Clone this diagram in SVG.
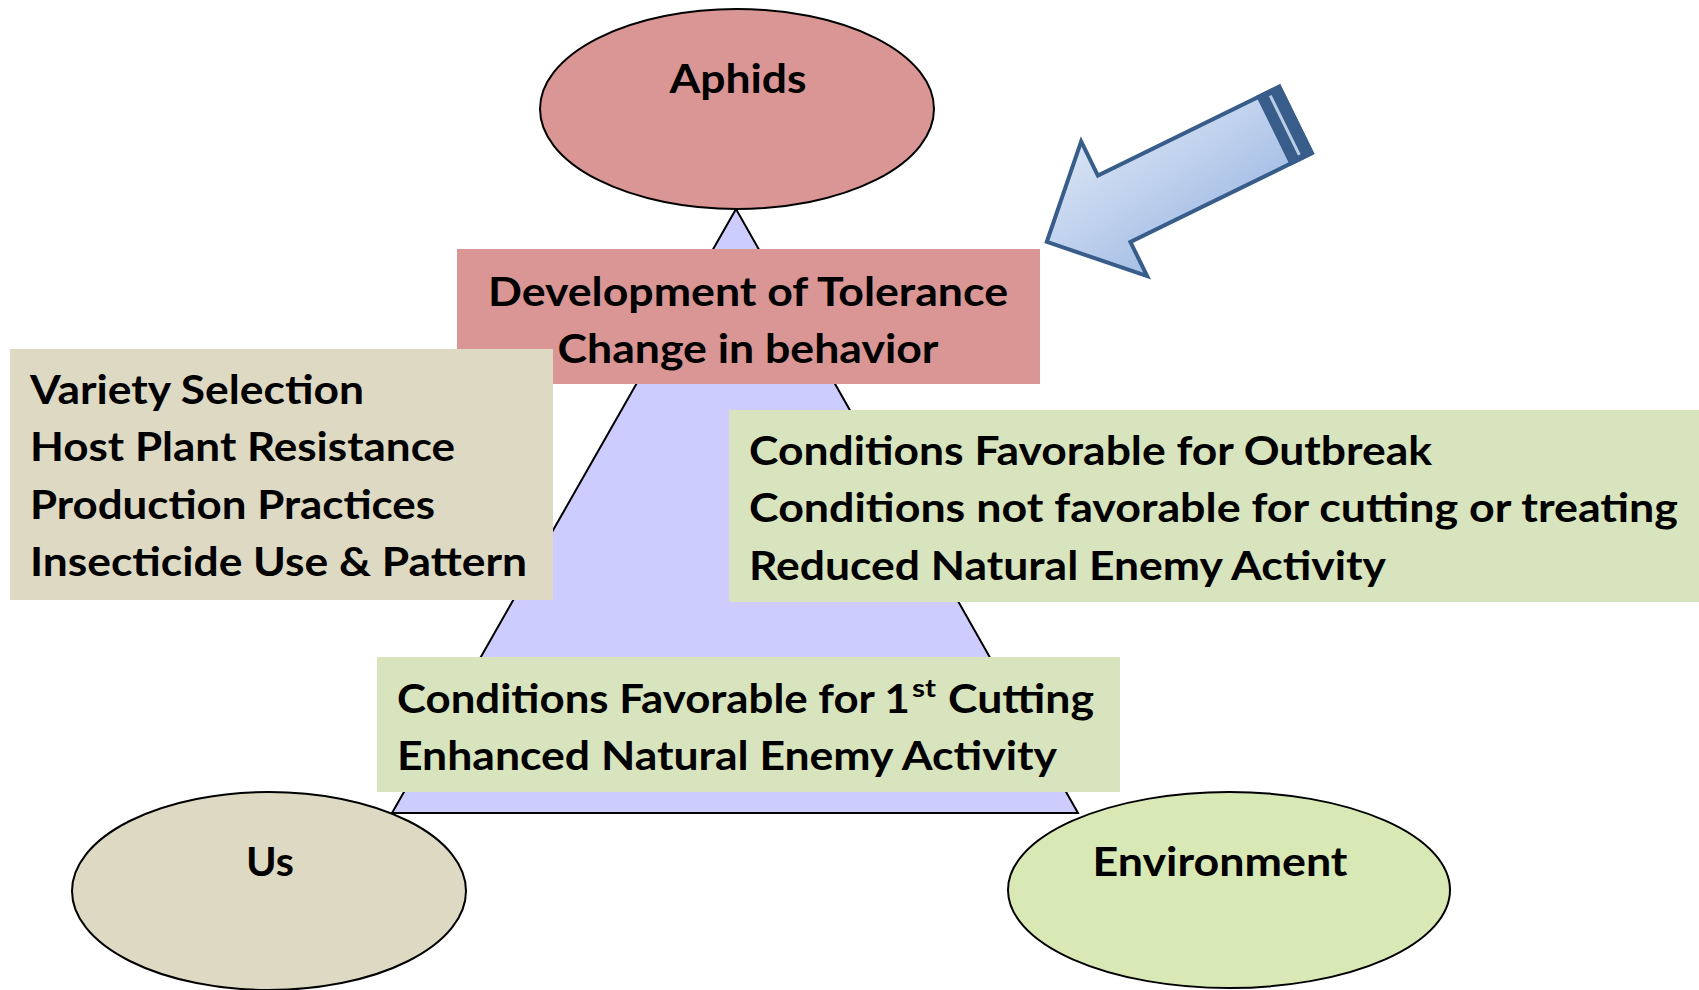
<svg xmlns="http://www.w3.org/2000/svg" width="1699" height="990" viewBox="0 0 1699 990">
<defs>
<linearGradient id="arrowGrad" x1="0" y1="0" x2="0.3" y2="1">
<stop offset="0" stop-color="#DCE6F5"/>
<stop offset="1" stop-color="#A6BFE6"/>
</linearGradient>
</defs>
<style>
.t{font-family:Lato,"Open Sans","Liberation Sans",sans-serif;font-weight:bold;font-size:41px;fill:#000}
.c{text-anchor:middle}
.sh{stroke:#000;stroke-width:2}
</style>
<rect width="1699" height="990" fill="#fff"/>
<g id="triangle">
<polygon points="736,209 392,813 1078,813" fill="#CCCCFF" stroke="#000" stroke-width="2"/>
</g>
<g id="connectors">
<g id="arrow" transform="translate(1279.3,86.7) rotate(-26.1)">
<polygon points="0,0 -202,0 -202,-38 -277,37 -202,112 -202,74 0,74" fill="url(#arrowGrad)" stroke="#385D8A" stroke-width="4" stroke-linejoin="miter"/>
<rect x="-23" y="0" width="23" height="74" fill="#385D8A" stroke="#385D8A" stroke-width="4"/>
<line x1="-12" y1="4" x2="-12" y2="70" stroke="#B9CDE5" stroke-width="3"/>
</g>
</g>
<g id="aphids">
<ellipse cx="737" cy="109" rx="197" ry="100" fill="#D99694" class="sh"/>
<text class="t c" x="738" y="93" textLength="137" lengthAdjust="spacingAndGlyphs">Aphids</text>
</g>
<g id="us">
<ellipse cx="269" cy="891" rx="197" ry="99" fill="#DDD9C3" class="sh"/>
<text class="t c" x="270" y="876" textLength="48" lengthAdjust="spacingAndGlyphs">Us</text>
</g>
<g id="environment">
<ellipse cx="1229" cy="890" rx="221" ry="98" fill="#D8E9B5" class="sh"/>
<text class="t c" x="1220" y="876" textLength="255" lengthAdjust="spacingAndGlyphs">Environment</text>
</g>
<g id="tolerance">
<rect x="457" y="249" width="583" height="135" fill="#D99694"/>
<text class="t c" x="748" y="306" textLength="520" lengthAdjust="spacingAndGlyphs">Development of Tolerance</text>
<text class="t c" x="748" y="363" textLength="381" lengthAdjust="spacingAndGlyphs">Change in behavior</text>
</g>
<g id="us-factors">
<rect x="10" y="349" width="543" height="251" fill="#DDD9C3"/>
<text class="t" x="30" y="404" textLength="334" lengthAdjust="spacingAndGlyphs">Variety Selection</text>
<text class="t" x="30" y="461" textLength="425" lengthAdjust="spacingAndGlyphs">Host Plant Resistance</text>
<text class="t" x="30" y="519" textLength="405" lengthAdjust="spacingAndGlyphs">Production Practices</text>
<text class="t" x="30" y="576" textLength="497" lengthAdjust="spacingAndGlyphs">Insecticide Use &amp; Pattern</text>
</g>
<g id="env-unfavorable">
<rect x="729" y="410" width="970" height="192" fill="#D7E4BD"/>
<text class="t" x="749" y="465" textLength="683" lengthAdjust="spacingAndGlyphs">Conditions Favorable for Outbreak</text>
<text class="t" x="749" y="522" textLength="929" lengthAdjust="spacingAndGlyphs">Conditions not favorable for cutting or treating</text>
<text class="t" x="749" y="580" textLength="637" lengthAdjust="spacingAndGlyphs">Reduced Natural Enemy Activity</text>
</g>
<g id="env-favorable">
<rect x="377" y="657" width="743" height="135" fill="#D7E4BD"/>
<text class="t" x="397" y="713" textLength="513" lengthAdjust="spacingAndGlyphs">Conditions Favorable for 1</text>
<text class="t" x="912" y="697" style="font-size:25px" textLength="24" lengthAdjust="spacingAndGlyphs">st</text>
<text class="t" x="948" y="713" textLength="146" lengthAdjust="spacingAndGlyphs">Cutting</text>
<text class="t" x="397" y="770" textLength="660" lengthAdjust="spacingAndGlyphs">Enhanced Natural Enemy Activity</text>
</g>
</svg>
